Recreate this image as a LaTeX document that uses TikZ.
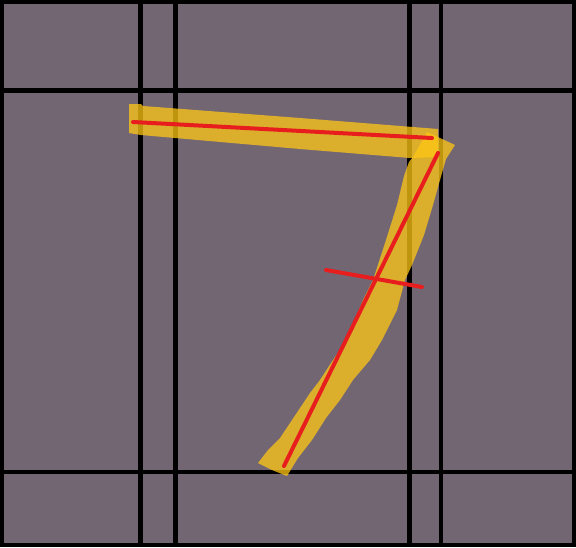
\documentclass[tikz,border=0pt]{standalone}
\begin{document}
\begin{tikzpicture}[x=1pt,y=-1pt,
  gridline/.style={black,line width=4.6pt},
  brush/.style={fill=brushyellow,fill opacity=0.75,draw=none},
  redline/.style={draw=strokered,line width=4pt,line cap=round}]
\definecolor{bgpurple}{RGB}{115,102,115}
\definecolor{brushyellow}{RGB}{255,199,20}
\definecolor{strokered}{RGB}{232,30,30}
\useasboundingbox (0,0) rectangle (576,547);
\fill[bgpurple] (0,0) rectangle (576,547);
% grid
\foreach \gx in {140.5,175.5,409.5,441}{\draw[gridline] (\gx,0) -- (\gx,547);}
\foreach \gy in {90.5,472}{\draw[gridline] (0,\gy) -- (576,\gy);}
\draw[black,line width=4pt] (1.8,1.8) rectangle (574.2,545.3);
% horizontal brush stroke
\fill[brush] (129,104) -- (141,104) -- (143,106) -- (300,118) -- (438,129)
  -- (438,157) -- (410,158) -- (300,149) -- (141,135) -- (129,133) -- cycle;
% diagonal brush stroke
\fill[brush] (427,132) -- (455,145) -- (446,159) -- (440,180) -- (433,205)
  -- (424,235) -- (412,265) -- (405,280) -- (401,295) -- (397,310)
  -- (392,320) -- (382,340) -- (370,360) -- (353,380) -- (340,400)
  -- (326,418) -- (312,440) -- (298,458)
  -- (287,476) -- (272,470) -- (258,463) -- (268,450) -- (280,438)
  -- (300,408) -- (310,393) -- (320,380) -- (333,360) -- (347,340)
  -- (355,320) -- (363,300) -- (373,280)
  -- (386,240) -- (397,205) -- (404,176) -- (409,162)
  -- (413,157) -- cycle;
% red strokes
\coordinate (h1) at (133,122);
\coordinate (h2) at (432,138);
\coordinate (d1) at (438,153);
\coordinate (d2) at (284,466);
\coordinate (c1) at (326,270);
\coordinate (c2) at (422,287);
\draw[redline] (h1) -- (h2);
\draw[redline] (d1) -- (d2);
\draw[redline] (c1) -- (c2);
\end{tikzpicture}
\end{document}
